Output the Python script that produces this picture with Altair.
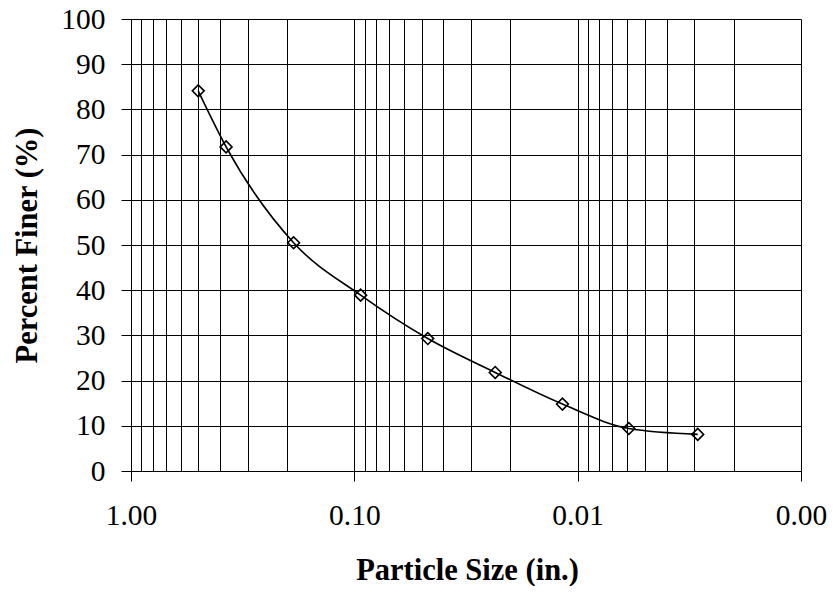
import altair as alt
import pandas as pd

# Data
particle_size = [0.5, 0.375, 0.187, 0.0937, 0.0469, 0.0234, 0.0117, 0.0059, 0.0029]
percent_finer = [84.1, 71.7, 50.5, 38.9, 29.3, 21.8, 14.8, 9.4, 8.1]
y_ticks = [0, 10, 20, 30, 40, 50, 60, 70, 80, 90, 100]
x_grid = [1.0] + [round(m * 10.0 ** -k, 6) for k in (1, 2, 3) for m in range(1, 10)]

df = pd.DataFrame({"size": particle_size, "finer": percent_finer})

FONT = "Liberation Serif"
decade = "abs(log(datum.value)/LN10 - round(log(datum.value)/LN10)) < 1e-6"

x = alt.X(
    "size:Q",
    scale=alt.Scale(type="log", domain=[0.001, 1], reverse=True),
    axis=alt.Axis(
        values=x_grid,
        labelExpr=f"({decade}) ? format(datum.value, '.2f') : ''",
        labelOverlap=False,
        labelFlush=False,
        labelPadding=20,
        labelFontSize=29.5,
        tickSize=10,
        tickOpacity={"condition": {"test": decade, "value": 1}, "value": 0},
        grid=True,
        title="Particle Size (in.)",
        titleFontSize=30.5,
        titleFontWeight="bold",
        titleX=336,
        titleY=108,
        titleAlign="center",
        titleBaseline="alphabetic",
    ),
)
y = alt.Y(
    "finer:Q",
    scale=alt.Scale(domain=[0, 100]),
    axis=alt.Axis(
        values=y_ticks,
        labelPadding=16,
        labelFontSize=29.5,
        tickSize=10,
        grid=True,
        title="Percent Finer (%)",
        titleFontSize=30.5,
        titleFontWeight="bold",
        titleAngle=-90,
        titleX=-95,
        titleY=226,
        titleAlign="center",
        titleBaseline="alphabetic",
    ),
)

base = alt.Chart(df).encode(x=x, y=y)
line = base.mark_line(color="black", strokeWidth=1.6, interpolate="monotone")
pts = base.mark_point(shape="diamond", size=140, filled=False, color="black",
                      strokeWidth=1.6, opacity=1)

chart = (
    alt.layer(line, pts)
    .properties(
        width=670,
        height=452,
        autosize=alt.AutoSizeParams(type="none"),
        padding={"left": 123, "top": 11, "right": 26, "bottom": 115},
        background="white",
    )
    .configure_axis(
        labelFont=FONT,
        titleFont=FONT,
        labelColor="black",
        titleColor="black",
        domainColor="black",
        domainWidth=1,
        tickColor="black",
        tickWidth=1,
        gridColor="black",
        gridOpacity=1,
        gridWidth=1,
    )
    .configure_view(stroke=None)
)

chart.save("out.html", embed_options={"renderer": "svg", "actions": False})
